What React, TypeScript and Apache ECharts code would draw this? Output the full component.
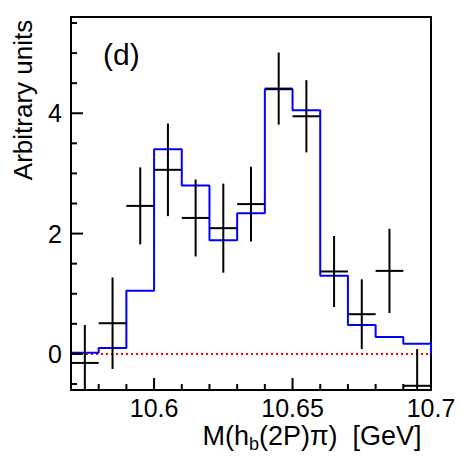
import React, { useEffect, useRef } from "react";
import * as echarts from "echarts";

// Bin centres of the M(h_b(2P)pi) distribution, GeV
const binCenters = [
  10.575, 10.585, 10.595, 10.605, 10.615, 10.625, 10.635, 10.645, 10.655, 10.665,
  10.675, 10.685, 10.695,
];
const binWidth = 0.01;
// Measured yields and their uncertainties
const dataValues = [-0.15, 0.51, 2.46, 3.06, 2.26, 2.09, 2.49, 4.41, 3.95, 1.37, 0.66, 1.38, -0.53];
const dataErrors = [0.63, 0.76, 0.64, 0.77, 0.64, 0.74, 0.62, 0.6, 0.6, 0.59, 0.58, 0.7, 0.61];
// Fit result per bin
const fitValues = [0.02, 0.1, 1.05, 3.4, 2.8, 1.89, 2.34, 4.4, 4.05, 1.3, 0.48, 0.28, 0.17];

const xMajorTicks = [10.6, 10.65, 10.7];
const xMinorTicks = [10.58, 10.59, 10.61, 10.62, 10.63, 10.64, 10.66, 10.67, 10.68, 10.69];
const yMajorTicks = [0, 2, 4];
const yMinorTicks = [-0.5, 0.5, 1, 1.5, 2.5, 3, 3.5, 4.5, 5, 5.5];

const X_MIN = 10.57;
const X_MAX = 10.7;
const Y_MIN = -0.6;
const Y_MAX = 5.6;

const MAJOR_LEN = 12;
const MINOR_LEN = 6;

const FONT = "Liberation Sans, Arial, Helvetica, sans-serif";

export default function App() {
  const ref = useRef<HTMLDivElement>(null);

  useEffect(() => {
    if (!ref.current) return;
    const chart = echarts.init(ref.current, undefined, { renderer: "svg" });

    // Step outline of the fit: left edge of every bin, then the closing edge down to zero
    const fitStep: number[][] = binCenters.map((c, i) => [c - binWidth / 2, fitValues[i]]);
    const last = binCenters[binCenters.length - 1] + binWidth / 2;
    fitStep.push([last, fitValues[fitValues.length - 1]]);
    fitStep.push([last, 0]);

    const crosses = binCenters.map((c, i) => [c, dataValues[i], dataErrors[i]]);

    // Inward tick marks along the bottom and left edges of the frame
    const xTickData = [
      ...xMajorTicks.map((v) => [v, MAJOR_LEN]),
      ...xMinorTicks.map((v) => [v, MINOR_LEN]),
    ];
    const yTickData = [
      ...yMajorTicks.map((v) => [v, MAJOR_LEN]),
      ...yMinorTicks.map((v) => [v, MINOR_LEN]),
    ];

    const black = { color: "#000", width: 2 };
    const frameLine = { show: true, onZero: false, lineStyle: black };
    const tickStroke = { stroke: "#000", lineWidth: 2 };

    const xBase = { type: "value", min: X_MIN, max: X_MAX, splitLine: { show: false } };
    const yBase = { type: "value", min: Y_MIN, max: Y_MAX, splitLine: { show: false } };

    chart.setOption({
      animation: false,
      backgroundColor: "#fff",
      grid: { left: 71, right: 30, top: 17, bottom: 71 },
      xAxis: [
        {
          ...xBase,
          position: "bottom",
          axisLine: frameLine,
          axisTick: { show: false },
          axisLabel: {
            show: true,
            customValues: xMajorTicks,
            margin: 5,
            fontSize: 25,
            fontFamily: FONT,
            color: "#000",
            formatter: (v: number) => String(Math.round(v * 1000) / 1000),
          },
        },
        {
          ...xBase,
          position: "top",
          axisLine: frameLine,
          axisTick: { show: false },
          axisLabel: { show: false },
        },
      ],
      yAxis: [
        {
          ...yBase,
          position: "left",
          axisLine: frameLine,
          axisTick: { show: false },
          axisLabel: {
            show: true,
            customValues: yMajorTicks,
            margin: 9,
            fontSize: 25,
            fontFamily: FONT,
            color: "#000",
          },
        },
        {
          ...yBase,
          position: "right",
          axisLine: frameLine,
          axisTick: { show: false },
          axisLabel: { show: false },
        },
      ],
      series: [
        {
          name: "zero",
          type: "line",
          data: [
            [X_MIN, 0],
            [X_MAX, 0],
          ],
          symbol: "none",
          lineStyle: { color: "#ff0000", width: 2, type: [2, 3] },
          silent: true,
          z: 2,
        },
        {
          name: "fit",
          type: "line",
          step: "end",
          data: fitStep,
          symbol: "none",
          lineStyle: { color: "#0000ff", width: 2 },
          silent: true,
          z: 3,
        },
        {
          name: "data",
          type: "custom",
          data: crosses,
          z: 4,
          renderItem: (_params: any, api: any) => {
            const x = api.value(0);
            const y = api.value(1);
            const e = api.value(2);
            const lo = Math.max(y - e, Y_MIN);
            const hi = Math.min(y + e, Y_MAX);
            const pL = api.coord([x - binWidth / 2, y]);
            const pR = api.coord([x + binWidth / 2, y]);
            const pT = api.coord([x, hi]);
            const pB = api.coord([x, lo]);
            const style = { stroke: "#000", lineWidth: 2 };
            return {
              type: "group",
              children: [
                { type: "line", shape: { x1: pL[0], y1: pL[1], x2: pR[0], y2: pR[1] }, style },
                { type: "line", shape: { x1: pT[0], y1: pT[1], x2: pB[0], y2: pB[1] }, style },
              ],
            };
          },
        },
        {
          name: "xTicks",
          type: "custom",
          data: xTickData,
          silent: true,
          z: 5,
          renderItem: (_params: any, api: any) => {
            const p = api.coord([api.value(0), Y_MIN]);
            const len = api.value(1);
            return {
              type: "line",
              shape: { x1: p[0], y1: p[1], x2: p[0], y2: p[1] - len },
              style: tickStroke,
            };
          },
        },
        {
          name: "yTicks",
          type: "custom",
          data: yTickData,
          silent: true,
          z: 5,
          renderItem: (_params: any, api: any) => {
            const p = api.coord([X_MIN, api.value(0)]);
            const len = api.value(1);
            return {
              type: "line",
              shape: { x1: p[0], y1: p[1], x2: p[0] + len, y2: p[1] },
              style: tickStroke,
            };
          },
        },
      ],
      graphic: [
        {
          type: "text",
          x: 103,
          y: 54,
          style: { text: "(d)", fontSize: 30, fontFamily: FONT, fill: "#000", verticalAlign: "middle" },
        },
        {
          type: "text",
          x: 23,
          y: 100,
          rotation: Math.PI / 2,
          style: {
            text: "Arbitrary units",
            fontSize: 26,
            fontFamily: FONT,
            fill: "#000",
            align: "center",
            verticalAlign: "middle",
          },
        },
        {
          type: "text",
          x: 312,
          y: 436,
          style: {
            text: "M(h{sub|b}(2P)π)  [GeV]",
            fontSize: 27,
            fontFamily: FONT,
            fill: "#000",
            align: "center",
            verticalAlign: "middle",
            rich: {
              sub: { fontSize: 18, fontFamily: FONT, fill: "#000", padding: [15, 0, 0, 0] },
            },
          },
        },
      ],
    });

    return () => chart.dispose();
  }, []);

  return (
    <div
      ref={ref}
      style={{ position: "fixed", left: 0, top: 0, width: 461, height: 461, background: "#fff" }}
    />
  );
}
